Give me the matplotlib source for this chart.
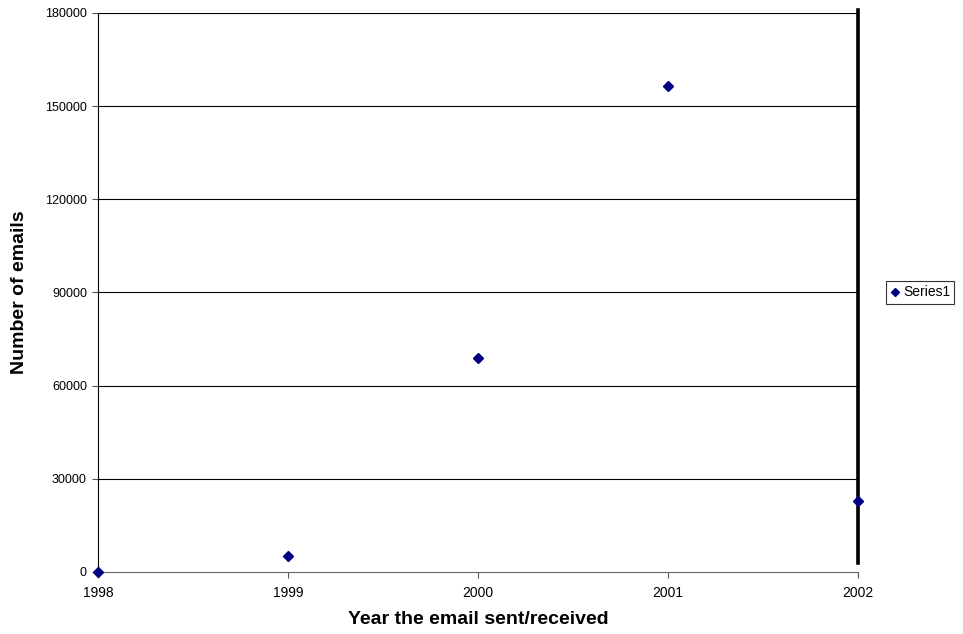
import matplotlib
matplotlib.use("Agg")
import matplotlib.pyplot as plt

plt.rcParams['font.family'] = ['Liberation Sans', 'DejaVu Sans']

years = [1998, 1999, 2000, 2001, 2002]
emails = [150, 5000, 69000, 156500, 22800]
y_ticks = [0, 30000, 60000, 90000, 120000, 150000, 180000]

fig = plt.figure(figsize=(9.63, 6.34), dpi=100)
ax = fig.add_axes([0.1018, 0.0978, 0.7892, 0.8817])

# horizontal gridlines at each major tick
for t in y_ticks[1:]:
    ax.axhline(t, color='black', lw=0.8, zorder=1)

ax.plot(years, emails, linestyle='none', marker='D', markersize=5,
        color='#000080', label='Series1', zorder=4, clip_on=False)

# heavy vertical line on the last year
ax.axvline(2002, ymin=0.016, ymax=1.005, color='black', lw=2.6,
           zorder=3, clip_on=False)

ax.set_xlim(1998, 2002)
ax.set_ylim(0, 180000)
ax.set_xticks(years)
ax.set_yticks(y_ticks)
ax.tick_params(axis='both', length=4, width=0.8, color='#555555',
               direction='out', pad=4)
ax.tick_params(axis='x', labelsize=10, pad=6)
ax.tick_params(axis='y', labelsize=9)

for side in ['top', 'right']:
    ax.spines[side].set_visible(False)
ax.spines['left'].set_color('black')
ax.spines['left'].set_linewidth(0.8)
ax.spines['bottom'].set_color('#666666')
ax.spines['bottom'].set_linewidth(0.8)

ax.set_xlabel('Year the email sent/received', fontsize=14, fontweight='bold',
              labelpad=8)
ax.set_ylabel('Number of emails', fontsize=14, fontweight='bold', labelpad=12)

leg = ax.legend(loc='center left', bbox_to_anchor=(1.028, 0.5), fontsize=10,
                frameon=True, fancybox=False, edgecolor='black',
                handlelength=0.6, handletextpad=0.3, borderpad=0.3,
                markerscale=0.9)
leg.get_frame().set_linewidth(0.8)

fig.savefig('out.png', dpi=100)
